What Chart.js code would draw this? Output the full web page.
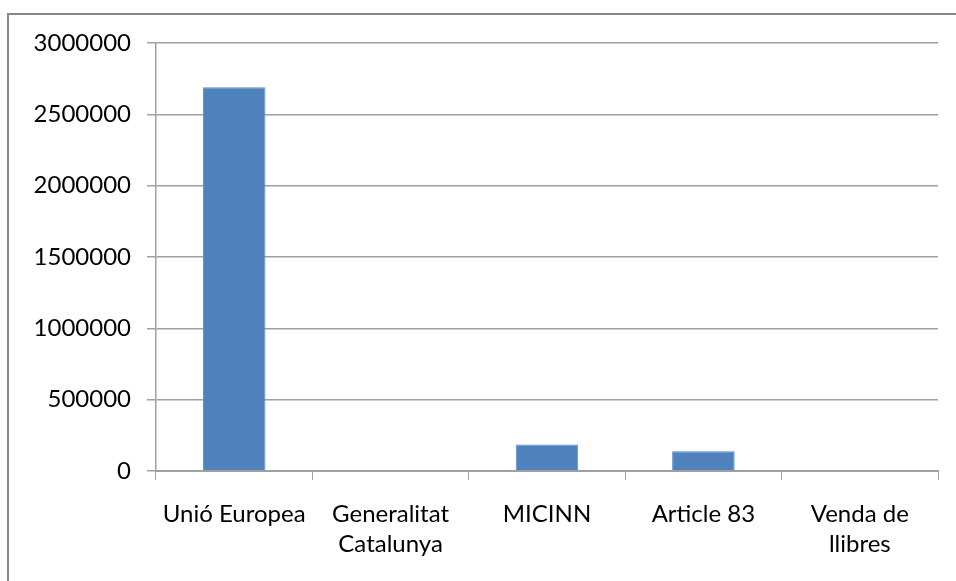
<!DOCTYPE html>
<html>
<head>
<meta charset="utf-8">
<script src="https://cdn.jsdelivr.net/npm/chart.js@4"></script>
<style>
html,body{margin:0;padding:0;background:#fff;}
#wrap{width:956px;height:581px;position:relative;}
</style>
</head>
<body>
<div id="wrap"><canvas id="c" width="956" height="581"></canvas></div>
<script>
const categories = ['Unió Europea', ['Generalitat','Catalunya'], 'MICINN', 'Article 83', ['Venda de','llibres']];
const values = [2690000, 0, 186000, 138000, 0];
const yTicks = [0, 500000, 1000000, 1500000, 2000000, 2500000, 3000000];

const borderPlugin = {
  id: 'outerBorder',
  beforeDraw(chart) {
    const ctx = chart.ctx;
    ctx.save();
    ctx.fillStyle = '#fff';
    ctx.fillRect(0, 0, chart.width, chart.height);
    ctx.strokeStyle = '#868686';
    ctx.lineWidth = 2;
    ctx.strokeRect(8, 14, chart.width + 20, chart.height + 20);
    ctx.restore();
  }
};

new Chart(document.getElementById('c'), {
  type: 'bar',
  data: {
    labels: categories,
    datasets: [{
      data: values,
      backgroundColor: '#4f81bd',
      borderColor: '#5b8bc6',
      borderWidth: 1,
      barPercentage: 0.4,
      categoryPercentage: 1.0
    }]
  },
  options: {
    responsive: false,
    animation: false,
    devicePixelRatio: 1,
    layout: { padding: { top: 43, right: 18, bottom: 0, left: 0 } },
    plugins: { legend: { display: false }, tooltip: { enabled: false } },
    scales: {
      x: {
        afterFit(s) { s.height = 110; },
        grid: { display: true, drawOnChartArea: false, drawTicks: true, tickLength: 9, color: '#a0a0a0', offset: true },
        border: { color: '#a0a0a0', width: 2 },
        ticks: { color: '#000', font: { family: 'Lato', size: 24, lineHeight: 1.25 }, padding: 19, maxRotation: 0, autoSkip: false },
      },
      y: {
        min: 0, max: 3000000,
        afterFit(s) { s.width = 156; },
        afterBuildTicks(s) { s.ticks = yTicks.map(v => ({ value: v })); },
        grid: { color: '#a0a0a0', lineWidth: 1.5, tickLength: 9 },
        border: { color: '#a0a0a0', width: 1.5 },
        ticks: { color: '#000', font: { family: 'Lato', size: 24 }, padding: 16, callback: v => String(v) }
      }
    }
  },
  plugins: [borderPlugin]
});
</script>
</body>
</html>
